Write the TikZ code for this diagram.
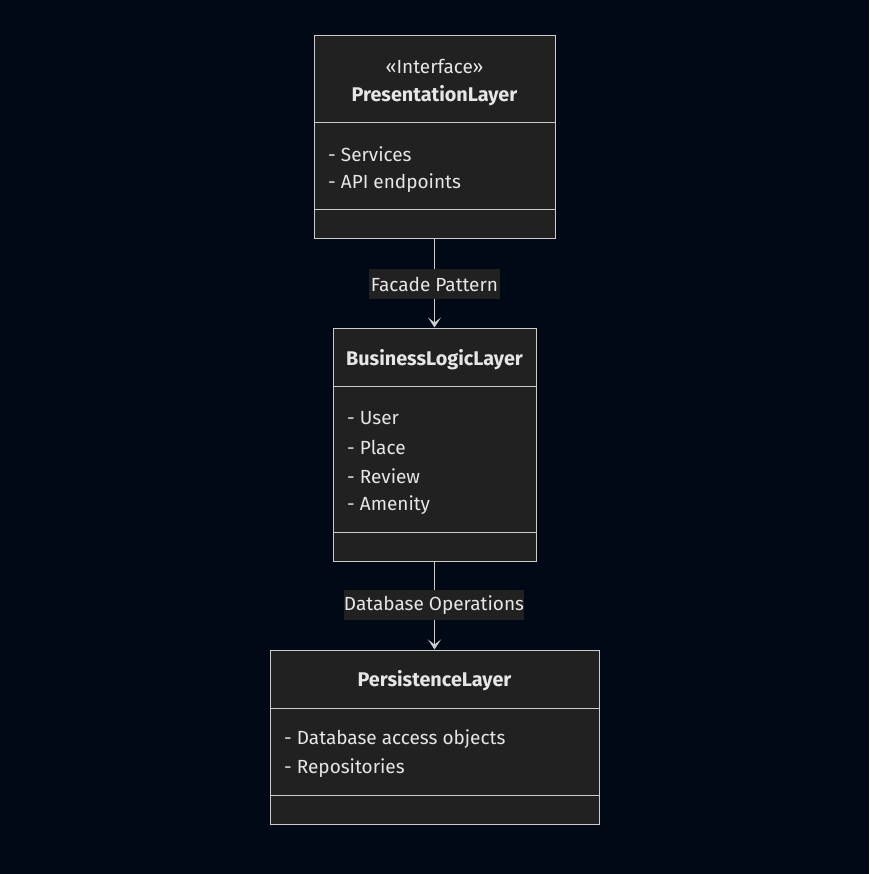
\documentclass[tikz,border=0pt]{standalone}
\usepackage{fontspec}
\setmainfont{Fira Sans}
\usetikzlibrary{arrows.meta}
\definecolor{pagebg}{HTML}{010816}
\definecolor{boxfill}{HTML}{212121}
\definecolor{boxline}{HTML}{CCCCCC}
\definecolor{ink}{HTML}{E6E6E6}
\tikzset{
  umlbox/.style={draw=boxline, fill=boxfill, line width=1pt, inner sep=0pt},
  divider/.style={draw=boxline, line width=1pt},
  classname/.style={text=ink, font=\fontsize{19.8}{22}\selectfont\bfseries, inner sep=0pt},
  stereo/.style={text=ink, font=\fontsize{19}{21}\selectfont, inner sep=0pt},
  member/.style={text=ink, font=\fontsize{19}{21}\selectfont, anchor=west, inner sep=0pt},
  link/.style={draw=boxline, line width=1pt, -{Stealth[length=10pt,width=13pt,inset=5pt,fill=boxline]}},
  linklabel/.style={fill=boxfill, text=ink, font=\fontsize{19}{21}\selectfont, inner sep=0pt, minimum height=30pt}
}
\begin{document}
\begin{tikzpicture}[x=1pt,y=-1pt]
\fill[pagebg] (0,0) rectangle (869,874);
\useasboundingbox (0,0) rectangle (869,874);

% Presentation layer
\node[umlbox, minimum width=241pt, minimum height=203pt] (pres) at (434.5,137.5) {};
\draw[divider] (314,123) -- (555,123);
\draw[divider] (314,210) -- (555,210);
\node[stereo] (presS) at (434.5,66.5) {«Interface»};
\node[classname] (presT) at (434.5,95.5) {PresentationLayer};
\node[member] (presM1) at (328,154) {- Services};
\node[member] (presM2) at (328,183) {- API endpoints};

% Business logic layer
\node[umlbox, minimum width=203pt, minimum height=233pt] (biz) at (434.5,444.5) {};
\draw[divider] (333,386) -- (536,386);
\draw[divider] (333,532) -- (536,532);
\node[classname] (bizT) at (434.5,359.5) {BusinessLogicLayer};
\node[member] (bizM1) at (347,418) {- User};
\node[member] (bizM2) at (347,447) {- Place};
\node[member] (bizM3) at (347,476) {- Review};
\node[member] (bizM4) at (347,505) {- Amenity};

% Persistence layer
\node[umlbox, minimum width=329pt, minimum height=174pt] (pers) at (434.5,737) {};
\draw[divider] (270,708) -- (599,708);
\draw[divider] (270,795) -- (599,795);
\node[classname] (persT) at (434.5,680.5) {PersistenceLayer};
\node[member] (persM1) at (284,739) {- Database access objects};
\node[member] (persM2) at (284,768) {- Repositories};

% Connectors
\draw[link] (pres.south) -- (biz.north);
\draw[link] (biz.south) -- (pers.north);
\node[linklabel, minimum width=131pt] (lab1) at (434.5,284) {Facade Pattern};
\node[linklabel, minimum width=178pt] (lab2) at (434,605) {Database Operations};
\end{tikzpicture}
\end{document}
